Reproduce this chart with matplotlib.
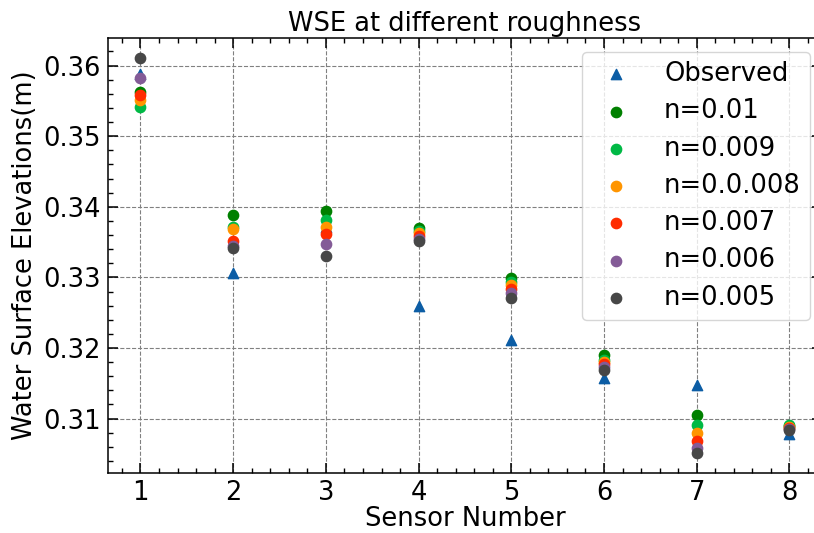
import numpy as np
import matplotlib
matplotlib.use("Agg")
import matplotlib.pyplot as plt

# sensor positions and water surface elevations (m)
sensors = [1, 2, 3, 4, 5, 6, 7, 8]
observed = [0.3588, 0.3306, 0.3372, 0.3259, 0.3212, 0.3158, 0.3148, 0.3078]
n_010 = [0.3562, 0.3389, 0.3394, 0.3370, 0.3299, 0.3190, 0.3105, 0.3089]
n_009 = [0.3541, 0.3371, 0.3382, 0.3366, 0.3294, 0.3183, 0.3091, 0.3091]
n_008 = [0.3551, 0.3369, 0.3371, 0.3363, 0.3289, 0.3180, 0.3080, 0.3088]
n_007 = [0.3559, 0.3351, 0.3361, 0.3358, 0.3283, 0.3177, 0.3068, 0.3087]
n_006 = [0.3582, 0.3345, 0.3347, 0.3355, 0.3278, 0.3173, 0.3059, 0.3086]
n_005 = [0.3611, 0.3341, 0.3331, 0.3351, 0.3271, 0.3169, 0.3051, 0.3084]

runs = [
    ("n=0.01", n_010, "#008000"),
    ("n=0.009", n_009, "#00B945"),
    ("n=0.0.008", n_008, "#FF9500"),
    ("n=0.007", n_007, "#FF2C00"),
    ("n=0.006", n_006, "#845B97"),
    ("n=0.005", n_005, "#474747"),
]

plt.rcParams["font.family"] = "DejaVu Sans"
plt.rcParams["font.size"] = 18

fig = plt.figure(figsize=(8.14, 5.33), dpi=100)
ax = fig.add_axes([0.1327, 0.1126, 0.877, 0.816])

ax.scatter(sensors, observed, marker="^", s=55, color="#0C5DA5", label="Observed", zorder=3)
for name, vals, col in runs:
    ax.scatter(sensors, vals, marker="o", s=55, color=col, label=name, zorder=3)

ax.set_title("WSE at different roughness", fontsize=18.5, pad=5)
ax.set_xlabel("Sensor Number", fontsize=18.5, labelpad=0)
ax.set_ylabel("Water Surface Elevations(m)", fontsize=18.5, labelpad=4)

ax.set_xticks(sensors)
ax.set_yticks([0.31, 0.32, 0.33, 0.34, 0.35, 0.36])
ax.set_yticklabels(["0.31", "0.32", "0.33", "0.34", "0.35", "0.36"])
ax.xaxis.set_minor_locator(matplotlib.ticker.MultipleLocator(0.2))
ax.yaxis.set_minor_locator(matplotlib.ticker.MultipleLocator(0.002))
ax.tick_params(which="both", direction="in", top=True, right=True, labelsize=18.5)
ax.tick_params(which="major", length=7, width=1.1, pad=5)
ax.tick_params(which="minor", length=3.5, width=1.0)
for sp in ax.spines.values():
    sp.set_linewidth(1.1)

ax.grid(True, which="major", linestyle="--", color="gray", linewidth=0.8)
ax.set_axisbelow(True)

ax.legend(loc="upper right", bbox_to_anchor=(0.983, 0.968), borderaxespad=0,
          scatterpoints=1, fontsize=18.5, labelspacing=0.44, handletextpad=0.85,
          borderpad=0.35, framealpha=0.8)

fig.savefig("out.png", dpi=100)
